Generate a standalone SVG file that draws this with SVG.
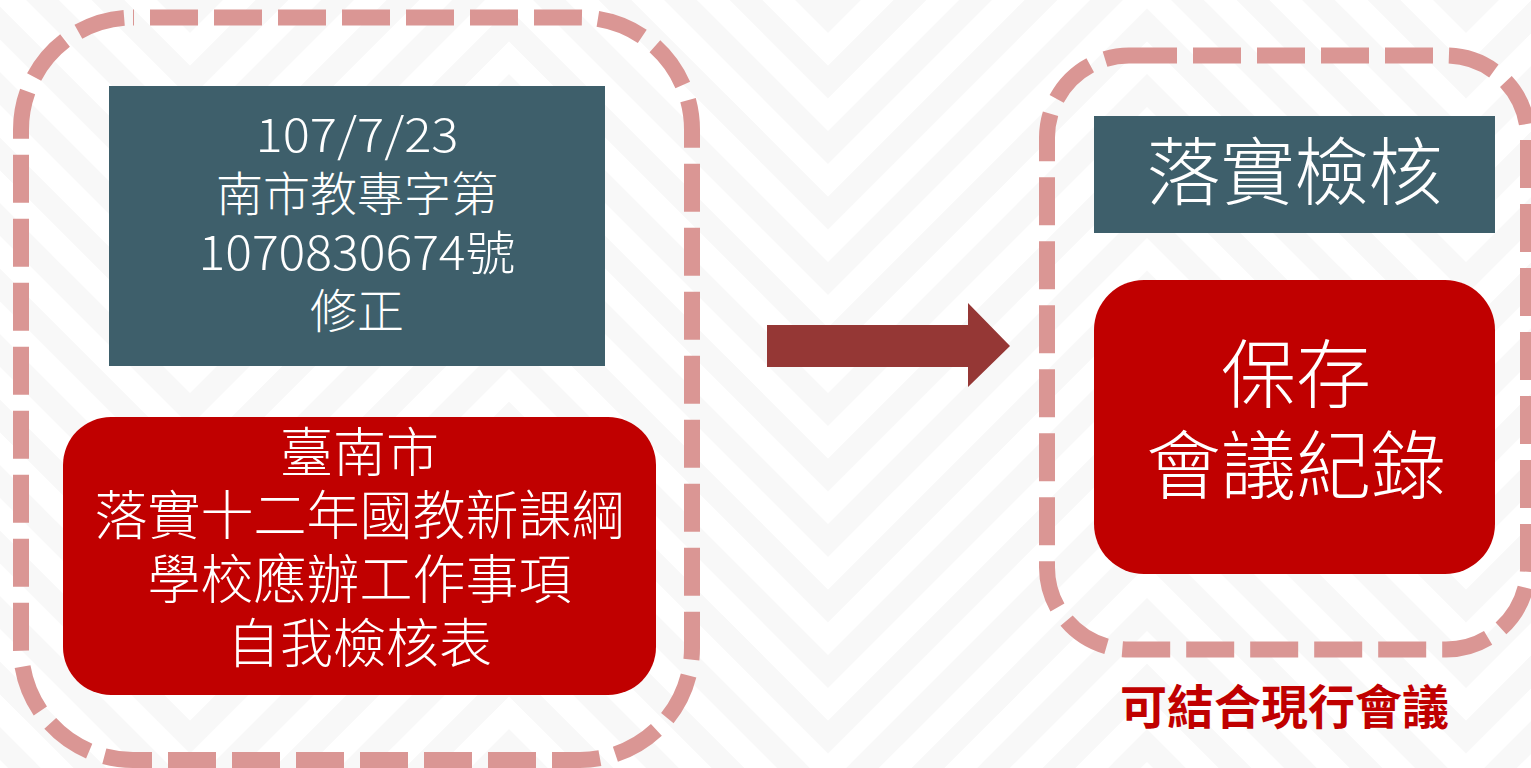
<svg xmlns="http://www.w3.org/2000/svg" xmlns:xlink="http://www.w3.org/1999/xlink" width="1531" height="768" viewBox="0 0 1531 768">
<style>
.bg{fill:none;stroke:#f8f8f8;stroke-width:23.2;stroke-linejoin:miter}
.dash{fill:none;stroke:#da9694;stroke-width:16;stroke-dasharray:48 16}
.teal{fill:#3e5f6b}
.red{fill:#c00000}
.t{fill:#ffffff;font-family:"Noto Sans CJK TC","Noto Sans CJK SC",sans-serif;font-weight:300;text-anchor:middle}
.note{fill:#c00000;font-family:"Noto Sans CJK TC","Noto Sans CJK SC",sans-serif;font-weight:700;text-anchor:middle}
</style>
<defs>
<path id="zz" d="M-129,-319 L190,0 L509,-319 L828,0 L1147,-319 L1466,0 L1785,-319"/>
</defs>
<rect x="0" y="0" width="1531" height="768" fill="#ffffff"/>
<g id="background">
<use xlink:href="#zz" class="bg" transform="translate(0,16.5)"/>
<use xlink:href="#zz" class="bg" transform="translate(0,82)"/>
<use xlink:href="#zz" class="bg" transform="translate(0,147.5)"/>
<use xlink:href="#zz" class="bg" transform="translate(0,213)"/>
<use xlink:href="#zz" class="bg" transform="translate(0,278.5)"/>
<use xlink:href="#zz" class="bg" transform="translate(0,344)"/>
<use xlink:href="#zz" class="bg" transform="translate(0,409.5)"/>
<use xlink:href="#zz" class="bg" transform="translate(0,475)"/>
<use xlink:href="#zz" class="bg" transform="translate(0,540.5)"/>
<use xlink:href="#zz" class="bg" transform="translate(0,606)"/>
<use xlink:href="#zz" class="bg" transform="translate(0,671.5)"/>
<use xlink:href="#zz" class="bg" transform="translate(0,737)"/>
<use xlink:href="#zz" class="bg" transform="translate(0,802.5)"/>
<use xlink:href="#zz" class="bg" transform="translate(0,868)"/>
<use xlink:href="#zz" class="bg" transform="translate(0,933.5)"/>
<use xlink:href="#zz" class="bg" transform="translate(0,999)"/>
<use xlink:href="#zz" class="bg" transform="translate(0,1064.5)"/>
<use xlink:href="#zz" class="bg" transform="translate(0,1130)"/>
</g>
<g id="left-frame">
<rect class="dash" x="21" y="17.5" width="671" height="742.5" rx="112" ry="112" stroke-dashoffset="-17"/>
</g>
<g id="right-frame">
<rect class="dash" x="1047" y="55.5" width="481" height="594" rx="82" ry="82"/>
</g>
<g id="node-document">
<rect class="teal" x="109" y="86" width="496" height="280"/>
<text class="t" font-size="47" x="357" y="152" textLength="203" lengthAdjust="spacingAndGlyphs">107/7/23</text>
<text class="t" font-size="47" x="357" y="211">南市教專字第</text>
<text class="t" font-size="47" x="357" y="270" textLength="317" lengthAdjust="spacingAndGlyphs">1070830674號</text>
<text class="t" font-size="47" x="357" y="328">修正</text>
</g>
<g id="node-checklist">
<rect class="red" x="63" y="417" width="593" height="278" rx="48" ry="48"/>
<text class="t" font-size="53" x="359.5" y="471.5">臺南市</text>
<text class="t" font-size="53" x="359.5" y="535">落實十二年國教新課綱</text>
<text class="t" font-size="53" x="359.5" y="599">學校應辦工作事項</text>
<text class="t" font-size="53" x="359.5" y="662.5">自我檢核表</text>
</g>
<g id="connectors">
<path d="M767,325 L968,325 L968,303 L1010,346 L968,387 L968,367 L767,367 Z" fill="#953735"/>
</g>
<g id="node-verify">
<rect class="teal" x="1094" y="116" width="401" height="117"/>
<text class="t" font-size="74" x="1294.5" y="198.5">落實檢核</text>
</g>
<g id="node-records">
<rect class="red" x="1094" y="280" width="401" height="294" rx="50" ry="50"/>
<text class="t" font-size="75" x="1296" y="401.5">保存</text>
<text class="t" font-size="75" x="1296" y="493">會議紀錄</text>
</g>
<g id="note">
<text class="note" font-size="47" x="1284.5" y="723.5">可結合現行會議</text>
</g>
</svg>
